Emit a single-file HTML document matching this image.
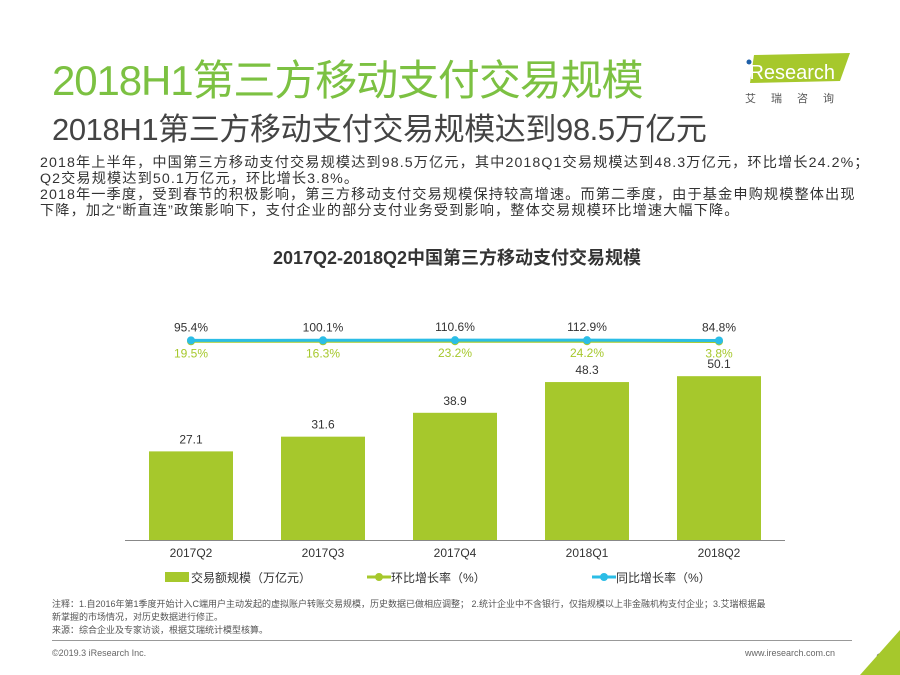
<!DOCTYPE html>
<html><head><meta charset="utf-8">
<style>
body{margin:0;width:900px;height:675px;background:#fff;overflow:hidden;font-family:"Liberation Sans","Noto Sans CJK SC",sans-serif;position:relative}
.a{position:absolute;white-space:nowrap}
</style></head><body>
<div class="a" style="left:52px;top:47px;font-size:42px;color:#7cc142;letter-spacing:-1.1px">2018H1第三方移动支付交易规模</div>
<div class="a" style="left:52px;top:104px;font-size:31px;color:#444;letter-spacing:-0.4px">2018H1第三方移动支付交易规模达到98.5万亿元</div>
<div class="a" style="left:740px;top:47px;width:112px;height:44px">
<svg width="112" height="44"><polygon points="14,8 110,6 100,34 10,36" fill="#a6c82c"/><circle cx="9" cy="15" r="2.5" fill="#1f5fa8"/><text x="5" y="32" font-size="20" fill="#fff" font-family="Liberation Sans">iResearch</text></svg></div>
<div class="a" style="left:745px;top:90px;font-size:11px;color:#555;letter-spacing:15px">艾瑞咨询</div>
<div class="a" style="left:40px;top:155px;font-size:14.2px;color:#333;line-height:16px;letter-spacing:1.1px">2018年上半年，中国第三方移动支付交易规模达到98.5万亿元，其中2018Q1交易规模达到48.3万亿元，环比增长24.2%；<br>Q2交易规模达到50.1万亿元，环比增长3.8%。<br>2018年一季度，受到春节的积极影响，第三方移动支付交易规模保持较高增速。而第二季度，由于基金申购规模整体出现<br>下降，加之“断直连”政策影响下，支付企业的部分支付业务受到影响，整体交易规模环比增速大幅下降。</div>
<div class="a" style="left:0;width:914px;text-align:center;top:244px;font-size:18px;font-weight:bold;color:#333">2017Q2-2018Q2中国第三方移动支付交易规模</div>
<svg id="chart" class="a" style="left:0;top:0" width="900" height="675"></svg>
<div class="a" style="left:52px;top:598px;font-size:9px;color:#555;line-height:13px">注释：1.自2016年第1季度开始计入C端用户主动发起的虚拟账户转账交易规模，历史数据已做相应调整； 2.统计企业中不含银行，仅指规模以上非金融机构支付企业；3.艾瑞根据最<br>新掌握的市场情况，对历史数据进行修正。<br>来源：综合企业及专家访谈，根据艾瑞统计模型核算。</div>
<div class="a" style="left:52px;top:640px;width:800px;height:1px;background:#999"></div>
<div class="a" style="left:52px;top:648px;font-size:9px;color:#666">©2019.3 iResearch Inc.</div>
<div class="a" style="left:745px;top:648px;font-size:9px;color:#666">www.iresearch.com.cn</div>
<div class="a" style="left:876px;top:650px;font-size:14px;color:#777">3</div>
<svg class="a" style="left:850px;top:630px" width="50" height="45"><polygon points="50,0 50,45 10,45" fill="#a6c82c"/></svg>
<script>
const categories=["2017Q2","2017Q3","2017Q4","2018Q1","2018Q2"];
const volume=[27.1,31.6,38.9,48.3,50.1];
const qoq=[19.5,16.3,23.2,24.2,3.8];
const yoy=[95.4,100.1,110.6,112.9,84.8];
const NS="http://www.w3.org/2000/svg";
const svg=document.getElementById('chart');
function mk(t,a){const e=document.createElementNS(NS,t);for(const k in a)e.setAttribute(k,a[k]);svg.appendChild(e);return e;}
const x=i=>191+i*132;
const yb=v=>540-v*3.27;
const yl=v=>341.5-v*0.012;
categories.forEach((c,i)=>{
 const r=mk('rect',{x:x(i)-42,y:yb(volume[i]),width:84,height:540-yb(volume[i]),fill:'#a6c82c'});
 
 
 const t=mk('text',{x:x(i),y:yb(volume[i])-8,'text-anchor':'middle','font-size':12,fill:'#333'});t.textContent=volume[i];
 
 
 const l=mk('text',{x:x(i),y:557,'text-anchor':'middle','font-size':12,fill:'#333'});l.textContent=c;
 
 
});
const ax=mk('line',{x1:125,x2:785,y1:540.5,y2:540.5,stroke:'#888'});


function series(vals,col,name,labY,labCol){
 const p=mk('polyline',{points:vals.map((v,i)=>x(i)+','+yl(v)).join(' '),fill:'none',stroke:col,'stroke-width':3});
 
 
 vals.forEach((v,i)=>{
  const c=mk('circle',{cx:x(i),cy:yl(v),r:4,fill:col});
  
  
  const t=mk('text',{x:x(i),y:yl(v)+labY,'text-anchor':'middle','font-size':12,fill:labCol});t.textContent=v+'%';
  
  
 });
}
series(qoq,'#a6c82c','qoq',16,'#a6c82c');
series(yoy,'#2bbde6','yoy',-9,'#333');
const lg=[[175,'rect','#a6c82c','交易额规模（万亿元）'],[375,'line','#a6c82c','环比增长率（%）'],[600,'line','#2bbde6','同比增长率（%）']];
lg.forEach(d=>{
 if(d[1]=='rect'){const r=mk('rect',{x:d[0]-10,y:572,width:24,height:10,fill:d[2]});}
 else{const l=mk('line',{x1:d[0]-8,x2:d[0]+16,y1:577,y2:577,stroke:d[2],'stroke-width':3});mk('circle',{cx:d[0]+4,cy:577,r:4,fill:d[2]});}
 const t=mk('text',{x:d[0]+16,y:582,'font-size':12,fill:'#333'});t.textContent=d[3];
 
 
});
</script>
</body></html>
